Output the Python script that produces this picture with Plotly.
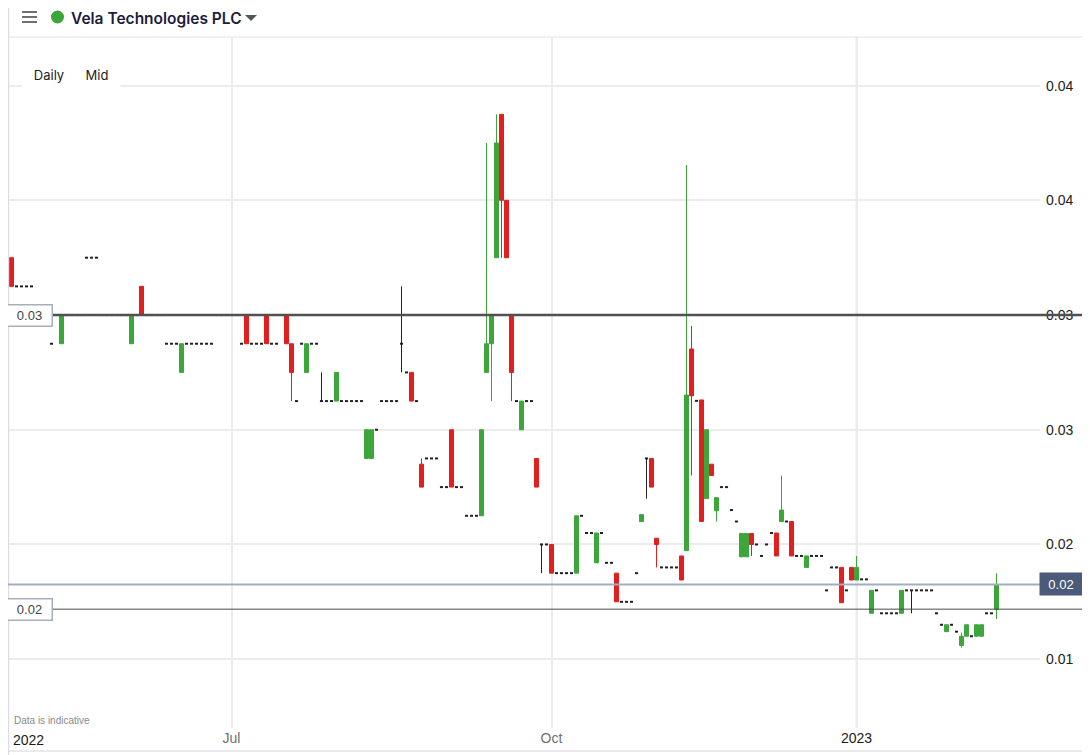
import pandas as pd
import plotly.graph_objects as go

# ---------------- data ----------------
holidays = ["2022-05-02", "2022-06-02", "2022-06-03", "2022-08-29", "2022-09-19",
            "2022-12-23", "2022-12-26", "2022-12-27", "2022-12-30", "2023-01-02"]
dates = [d.strftime("%Y-%m-%d") for d in pd.bdate_range("2022-04-27", "2023-02-10")
         if d.strftime("%Y-%m-%d") not in holidays]

opens = [
    .0325, .03125, .03125, .03125, .03125, None, None, None, .02875, .03,
    .02875, .03, .03, .03, .03, .0325, .0325, .0325, .03, .03,
    .03, .03, .03, .03, .02875, .03, .03125, .03, .03, .03,
    .03, .02875, .02875, .02875, .0275, .02875, .02875, .02875, .02875, .02875,
    .02875, .03, .03, .03, .03, .03, .02875, .03, .02875, .02875,
    .02875, .03, .02875, .02875, .03, .03, .02875, .02625, .02875, .0275,
    .02875, .02875, .02625, .02625, .02625, .02625, .02625, .02625, .02625, .02625,
    .02625, .02375, .02375, .025, .02625, .02625, .02625, .02625, .02875, .0275,
    .0275, .02625, .0235, .02375, .02375, .02375, .0225, .0225, .025, .0225,
    .0225, .02125, .02125, .02125, .02125, .0275, .02875, .0325, .03875, .035,
    .03, .02625, .025, .02625, .02625, .02375, .02, .02, .02, .01875,
    .01875, .01875, .01875, .01875, .02125, .0205, .0205, .0192, .0205, .0192,
    .0192, .01875, .0175, .0175, .0175, .01875, .021, .02375, .02375, .02027,
    .019, .019, .019, .019, .0195, .01973, .02852, .02626, .0263, .022,
    .0235, .02147, .0225, .0225, .0215, .021, .01946, .01946, .02048, .02,
    .0195, .02, .0205, .0205, .021, .021, .021, .0195, .0195, .019,
    .0195, .0195, .0195, .018, .019, .019, .019, .018, .019, .01845,
    .01848, .01848, .017, .018, .017, .017, .017, .017, .017, .018,
    .018, .018, .018, .018, .018, .017, .0165, .0162, .0165, .0162,
    .0156, .016, .016, .016, .016, .017, .017, .01717,
]
highs = [
    .0325, .03125, .03125, .03125, .03125, None, None, None, .02875, .03,
    .03, .03, .03, .03, .03, .0325, .0325, .0325, .03, .03,
    .03, .03, .03, .03, .03, .03, .03125, .03, .03, .03,
    .03, .02875, .02875, .02875, .02875, .02875, .02875, .02875, .02875, .02875,
    .02875, .03, .03, .03, .03, .03, .02875, .03, .02875, .02875,
    .02875, .03, .02875, .02875, .03, .03, .02875, .02625, .02875, .02875,
    .02875, .02875, .0275, .02625, .02625, .0275, .02625, .02625, .02625, .02625,
    .02625, .025, .025, .025, .02625, .02625, .02625, .02625, .03125, .0275,
    .0275, .02625, .02375, .02375, .02375, .02375, .0225, .0225, .025, .0225,
    .0225, .02125, .02125, .02125, .025, .0375, .03, .03875, .03875, .035,
    .03, .02625, .02625, .02625, .02625, .02375, .02, .02, .02, .01875,
    .01875, .01875, .01875, .02125, .02125, .0205, .0205, .0205, .0205, .0192,
    .0192, .01875, .0175, .0175, .0175, .01875, .0213, .02375, .02375, .02027,
    .019, .019, .019, .019, .0195, .03654, .02952, .02626, .0263, .025,
    .0235, .02204, .0225, .0225, .0215, .021, .02048, .02048, .02048, .02,
    .0195, .02, .0205, .0205, .023, .021, .021, .0195, .0195, .0195,
    .0195, .0195, .0195, .018, .019, .019, .019, .018, .019, .0195,
    .01848, .01848, .018, .018, .017, .017, .017, .017, .018, .018,
    .018, .018, .018, .018, .018, .017, .0165, .0165, .0165, .0162,
    .01616, .0165, .016, .0165, .0165, .017, .017, .01874,
]
lows = [
    .03125, .03125, .03125, .03125, .03125, None, None, None, .02875, .03,
    .02875, .03, .03, .03, .03, .0325, .0325, .0325, .03, .03,
    .03, .03, .03, .03, .02875, .03, .03, .03, .03, .03,
    .03, .02875, .02875, .02875, .0275, .02875, .02875, .02875, .02875, .02875,
    .02875, .03, .03, .03, .03, .03, .02875, .02875, .02875, .02875,
    .02875, .02875, .02875, .02875, .03, .02875, .02625, .02625, .02875, .0275,
    .02875, .02875, .02625, .02625, .02625, .02625, .02625, .02625, .02625, .02625,
    .02625, .02375, .02375, .025, .02625, .02625, .02625, .02625, .0275, .0275,
    .02625, .02625, .0225, .02375, .02375, .02375, .0225, .0225, .0225, .0225,
    .0225, .02125, .02125, .02125, .02125, .0275, .02625, .0325, .0325, .0325,
    .02625, .02625, .025, .02625, .02625, .0225, .01875, .02, .01875, .01875,
    .01875, .01875, .01875, .01875, .02125, .0205, .0205, .0192, .0205, .0192,
    .0192, .0175, .0175, .0175, .0175, .01875, .021, .022, .0225, .019,
    .019, .019, .019, .019, .01845, .01973, .023, .02626, .021, .022,
    .023, .021, .0225, .0225, .0215, .021, .01946, .01946, .0195, .02,
    .0195, .02, .0205, .0195, .021, .021, .0195, .0195, .0195, .019,
    .0195, .0195, .0195, .018, .019, .019, .01746, .018, .01845, .01845,
    .01848, .01848, .017, .018, .017, .017, .017, .017, .017, .018,
    .017, .018, .018, .018, .018, .017, .0165, .0162, .0165, .0162,
    .0155, .016, .016, .016, .016, .017, .017, .01675,
]
closes = [
    .03125, .03125, .03125, .03125, .03125, None, None, None, .02875, .03,
    .03, .03, .03, .03, .03, .0325, .0325, .0325, .03, .03,
    .03, .03, .03, .03, .03, .03, .03, .03, .03, .03,
    .03, .02875, .02875, .02875, .02875, .02875, .02875, .02875, .02875, .02875,
    .02875, .03, .03, .03, .03, .03, .02875, .02875, .02875, .02875,
    .02875, .02875, .02875, .02875, .03, .02875, .0275, .02625, .02875, .02875,
    .02875, .02875, .02625, .02625, .02625, .0275, .02625, .02625, .02625, .02625,
    .02625, .025, .025, .025, .02625, .02625, .02625, .02625, .02875, .0275,
    .02625, .02625, .0225, .02375, .02375, .02375, .0225, .0225, .0225, .0225,
    .0225, .02125, .02125, .02125, .025, .02875, .03, .0375, .035, .0325,
    .0275, .02625, .02625, .02625, .02625, .0225, .02, .02, .01875, .01875,
    .01875, .01875, .01875, .02125, .02125, .0205, .0205, .0205, .0205, .0192,
    .0192, .0175, .0175, .0175, .0175, .01875, .0213, .02375, .0225, .02,
    .019, .019, .019, .019, .01845, .02651, .02648, .02626, .021, .025,
    .023, .02204, .0225, .0225, .0215, .021, .02048, .02048, .02, .02,
    .0195, .02, .0205, .0195, .0215, .021, .0195, .0195, .0195, .0195,
    .0195, .0195, .0195, .018, .019, .019, .01746, .018, .01845, .019,
    .01848, .01848, .018, .018, .017, .017, .017, .017, .018, .018,
    .018, .018, .018, .018, .018, .017, .0165, .0165, .0165, .0162,
    .016, .0165, .016, .0165, .0165, .017, .017, .01826,
]

y_tickvals = [0.015, 0.02, 0.025, 0.03, 0.035, 0.04]
y_ticktext = ["0.01", "0.02", "0.03", "0.03", "0.04", "0.04"]
x_tickvals = ["2022-07-01", "2022-10-03", "2023-01-03"]
x_ticktext = ["Jul", "Oct", '<span style="color:#1a1a1a">2023</span>']

level_line = 0.03          # marked horizontal level
last_close = closes[-1]    # current price line
prev_level = 0.01718       # thin level line

# ---------------- split candles ----------------
cx, co, ch, cl, cc = [], [], [], [], []
fx, fy, fup, fdn = [], [], [], []
for d, o, h, l, c in zip(dates, opens, highs, lows, closes):
    if o is None:
        continue
    if o == c:
        fx.append(d); fy.append(c); fup.append(h - c); fdn.append(c - l)
    else:
        cx.append(d); co.append(o); ch.append(h); cl.append(l); cc.append(c)

GREEN = "#3da63b"
RED = "#e21f1f"

fig = go.Figure()
fig.add_trace(go.Candlestick(
    x=cx, open=co, high=ch, low=cl, close=cc,
    increasing=dict(line=dict(color=GREEN, width=1), fillcolor=GREEN),
    decreasing=dict(line=dict(color=RED, width=1), fillcolor=RED),
    whiskerwidth=0, showlegend=False, hoverinfo="skip",
))
fig.add_trace(go.Scatter(
    x=fx, y=fy, mode="markers",
    marker=dict(symbol="line-ew", size=2.2, line=dict(color="#222", width=2)),
    error_y=dict(type="data", symmetric=False, array=fup, arrayminus=fdn,
                 thickness=1, width=0, color="#222"),
    showlegend=False, hoverinfo="skip",
))

# ---------------- layout helpers (page has an 8px body margin) ----------------
OFF = 8
W, H = 1090 - OFF, 755 - OFF
L, R, T, B = 8, 1040, 37, 728          # plot area in screen pixels
def px(x):
    return (x - L) / (R - L)
def py(y):
    return (B - y) / (B - T)

shapes = []
shapes.append(dict(type="line", xref="paper", yref="paper", x0=px(8), x1=px(1090), y0=py(37), y1=py(37),
                   line=dict(color="#e2e2e6", width=1), layer="above"))
shapes.append(dict(type="line", xref="paper", yref="paper", x0=px(8.6), x1=px(8.6), y0=py(8), y1=py(755),
                   line=dict(color="#dcdde2", width=1.2)))
shapes.append(dict(type="line", xref="paper", yref="paper", x0=px(1086), x1=px(1086), y0=py(37), y1=py(755),
                   line=dict(color="#dcdde2", width=1.5)))
shapes.append(dict(type="line", xref="paper", yref="paper", x0=px(8), x1=px(1090), y0=py(751), y1=py(751),
                   line=dict(color="#d5d6dc", width=1)))
for yy in (12, 17, 22):
    shapes.append(dict(type="line", xref="paper", yref="paper", x0=px(22), x1=px(37), y0=py(yy), y1=py(yy),
                       line=dict(color="#6e6e78", width=2)))
shapes.append(dict(type="circle", xref="paper", yref="paper", x0=px(51), x1=px(64), y0=py(23.5), y1=py(10.5),
                   fillcolor="#3aa63a", line=dict(width=0)))
shapes.append(dict(type="path", xref="paper", yref="paper",
                   path=f"M {px(245)} {py(15)} L {px(257)} {py(15)} L {px(251)} {py(21)} Z",
                   fillcolor="#555", line=dict(width=0)))
shapes.append(dict(type="line", xref="x", yref="paper", x0="2023-01-03", x1="2023-01-03", y0=0, y1=1,
                   line=dict(color="#d4d5dc", width=1.5), layer="below"))
shapes.append(dict(type="line", xref="paper", yref="y", x0=0, x1=px(1086), y0=level_line, y1=level_line,
                   line=dict(color="#505050", width=2.5), layer="above"))
shapes.append(dict(type="line", xref="paper", yref="y", x0=0, x1=1, y0=last_close, y1=last_close,
                   line=dict(color="#a4adbf", width=2), layer="above"))
shapes.append(dict(type="line", xref="paper", yref="y", x0=0, x1=px(1086), y0=prev_level, y1=prev_level,
                   line=dict(color="#4a4a4a", width=1), layer="above"))

FONT = "Liberation Sans, Arial, sans-serif"
annotations = [
    dict(xref="paper", yref="paper", x=px(69), y=py(18), xanchor="left", yanchor="middle",
         text="Vela Technologies PLC", showarrow=False,
         font=dict(family="Inter, Roboto, sans-serif", size=15.5, color="#1d1d3b", weight=600)),
    dict(xref="paper", yref="paper", x=px(49), y=py(75), xanchor="center", yanchor="middle",
         text="Daily", showarrow=False, bgcolor="white", borderpad=5, width=44,
         font=dict(family="Inter, Roboto, sans-serif", size=13, color="#222")),
    dict(xref="paper", yref="paper", x=px(97), y=py(75), xanchor="center", yanchor="middle",
         text="Mid", showarrow=False, bgcolor="white", borderpad=5, width=36,
         font=dict(family="Inter, Roboto, sans-serif", size=13, color="#222")),
    dict(xref="paper", yref="paper", x=px(12), y=py(720), xanchor="left", yanchor="middle",
         text="Data is indicative", showarrow=False,
         font=dict(family=FONT, size=10, color="#8a8a8a")),
    dict(xref="paper", yref="paper", x=px(11), y=py(740), xanchor="left", yanchor="middle",
         text="2022", showarrow=False,
         font=dict(family=FONT, size=14, color="#1a1a1a")),
    dict(xref="paper", yref="y", x=px(29), y=level_line, xanchor="center", yanchor="middle",
         text="0.03", showarrow=False, bgcolor="white", bordercolor="#a9aebb", borderwidth=1.5,
         width=42, height=18, font=dict(family=FONT, size=13, color="#444")),
    dict(xref="paper", yref="y", x=px(29), y=prev_level, xanchor="center", yanchor="middle",
         text="0.02", showarrow=False, bgcolor="white", bordercolor="#a9aebb", borderwidth=1.5,
         width=42, height=18, font=dict(family=FONT, size=13, color="#444")),
    dict(xref="paper", yref="y", x=px(1061), y=last_close, xanchor="center", yanchor="middle",
         text="0.02", showarrow=False, bgcolor="#4b5a78", borderpad=2,
         width=38, height=18, font=dict(family=FONT, size=13, color="white")),
]

fig.update_layout(
    width=W, height=H,
    margin=dict(l=L - OFF, r=W - (R - OFF), t=T - OFF, b=H - (B - OFF), pad=0),
    paper_bgcolor="white", plot_bgcolor="white",
    boxgap=0.2, boxgroupgap=0,
    showlegend=False,
    shapes=shapes, annotations=annotations,
    font=dict(family=FONT),
    xaxis=dict(type="category", categoryorder="array", categoryarray=dates,
               range=[-0.7, 205.7], tickvals=x_tickvals, ticktext=x_ticktext,
               showgrid=True, gridcolor="#ececee", gridwidth=1.5,
               tickfont=dict(family=FONT, size=14, color="#707070"),
               ticks="", showline=False, zeroline=False,
               rangeslider=dict(visible=False), fixedrange=True),
    yaxis=dict(side="right", range=[0.0120, 0.04212], tickvals=y_tickvals, ticktext=y_ticktext,
               showgrid=True, gridcolor="#ececee", gridwidth=1.5,
               tickfont=dict(family=FONT, size=14, color="#222"), ticklabelstandoff=5,
               ticks="", showline=False, zeroline=False, fixedrange=True),
)

fig.write_html("out.html")
